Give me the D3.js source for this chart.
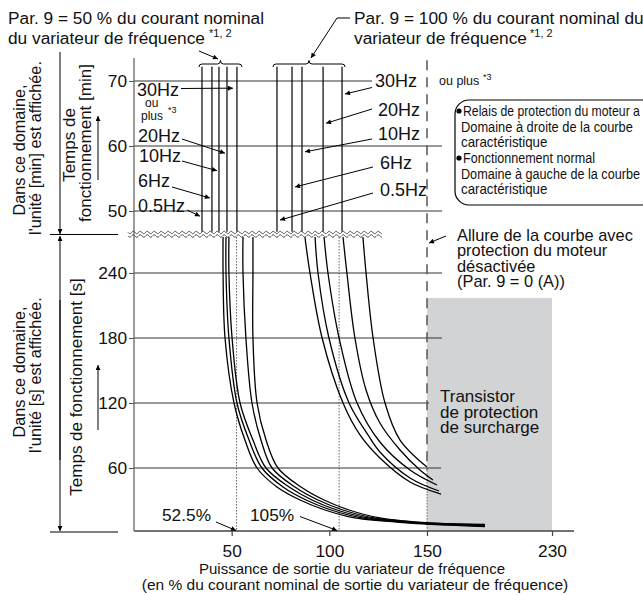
<!DOCTYPE html>
<html><head><meta charset="utf-8">
<script src="https://cdn.jsdelivr.net/npm/d3@7"></script>
<style>
html,body{margin:0;padding:0;background:#fff;}
svg{display:block;font-family:'Liberation Sans',Arial,Helvetica,sans-serif;}
</style></head><body>
<svg id="chart" width="643" height="595"></svg>
<script>
// ---------------- DATA ----------------
const freqLabels = ["0.5Hz", "6Hz", "10Hz", "20Hz", "30Hz"];
const xTicks = [50, 100, 150, 230];
const secTicks = [60, 120, 180, 240];
const minTicks = [50, 60, 70];
// gridline right ends (in % units)
const secGridEnds = [159, 151.3, 159.6, 159.6];
const minGridEnds = [159.6, 159.6, 121.9];
// vertical lines in the [min] domain (x in %)
const minLines50 = [34.8, 39.9, 43.5, 47.6, 52.7];
const minLines100 = [73.2, 80.9, 86.0, 96.8, 106.5];
const minSpan = [46.8, 72.2];
// curves in the [s] domain: [% current, seconds]
const curves50 = [
  [[45.6,273.2],[45.6,240],[46.6,180],[51.2,120],[56.8,85.8],[63.0,60],[73.2,41.9],[85.0,29.5],[97.8,20],[113.1,12.4],[141.3,7.6],[187.1,4.3]],
  [[47.1,273.2],[47.1,240],[48.6,180],[52.7,120],[58.9,85.8],[65.5,60],[76.3,41.9],[88.1,29.5],[100.9,20],[116.7,12.4],[143.9,7.6],[187.1,4.8]],
  [[48.6,273.2],[48.6,240],[50.2,180],[54.3,120],[60.9,85.8],[67.6,60],[79.4,41.9],[91.1,29.5],[103.9,20],[119.8,12.4],[146.4,7.6],[187.1,5.3]],
  [[55.8,273.2],[55.8,240],[57.3,180],[60.4,120],[65.0,85.8],[70.7,60],[82.4,41.9],[94.2,29.5],[107.0,20],[122.9,12.4],[149.0,7.6],[187.1,5.8]],
  [[60.9,273.2],[60.9,240],[60.9,180],[63.0,120],[67.6,85.8],[73.7,60],[85.5,41.9],[97.3,29.5],[110.1,20],[125.9,12.4],[151.9,7.6],[187.1,6.3]]
];
const curves100 = [
  [[87.5,273.2],[90.1,240],[96.3,180],[107.0,120],[115.7,90.5],[125.9,69.2],[141.3,46.7],[159.0,35.2]],
  [[92.7,273.2],[94.2,240],[99.8,180],[110.1,120],[119.8,90.5],[125.9,74.8],[141.3,50.5],[157.7,38.1]],
  [[97.3,273.2],[99.3,240],[105.0,180],[114.2,120],[125.9,84],[141.3,58.1],[156.4,43.8]],
  [[107.0,273.2],[109.0,240],[113.1,180],[118.8,132],[125.9,101.5],[136.2,76.6],[146.4,58.1],[153.8,48.6]],
  [[117.2,273.2],[118.8,240],[122.4,180],[128.5,120],[136.2,85.8],[150,60.9]]
];
const markerPcts = [52.5, 105];
const markerLabels = ["52.5%", "105%"];
const protectionLimit = 150;
const transistorZone = [150, 230];
const transistorTop = 217;

// ---------------- SCALES ----------------
const svg = d3.select("#chart");
const x = d3.scaleLinear().domain([0, 150, 230]).range([134, 427, 552]);
const ys = d3.scaleLinear().domain([0, 60, 120, 180, 240]).range([531, 468, 403, 338, 273]);
const ym = d3.scaleLinear().domain([50, 70]).range([211, 81]);

const defs = svg.append("defs");
defs.append("marker").attr("id", "ah").attr("viewBox", "0 0 10 10")
  .attr("refX", 10).attr("refY", 5).attr("markerWidth", 7).attr("markerHeight", 5)
  .attr("markerUnits", "userSpaceOnUse").attr("orient", "auto")
  .append("path").attr("d", "M0,0 L10,5 L0,10 z").attr("fill", "#000");

const FONT = 17.3;
function txt(px, py, s, size, opts = {}) {
  const t = svg.append("text").attr("x", px).attr("y", py).attr("font-size", size)
    .attr("fill", "#111").text(s);
  if (opts.anchor) t.attr("text-anchor", opts.anchor);
  if (opts.family) t.attr("font-family", opts.family);
  return t;
}
// text horizontally condensed to a given width (narrow typeface look)
function ntxt(px, py, s, size, width) {
  const t = svg.append("text").attr("x", 0).attr("y", 0).attr("font-size", size)
    .attr("fill", "#111").text(s);
  const natural = t.node().getComputedTextLength() || width;
  t.attr("transform", `translate(${px},${py}) scale(${width / natural},1)`);
  return t;
}
function rtxt(px, py, s, size) {
  return svg.append("text").attr("transform", `translate(${px},${py}) rotate(-90)`)
    .attr("text-anchor", "middle").attr("font-size", size).attr("fill", "#111").text(s);
}
function arrow(pts, w = 1) {
  svg.append("path").attr("d", d3.line()(pts)).attr("fill", "none")
    .attr("stroke", "#000").attr("stroke-width", w).attr("marker-end", "url(#ah)");
}

// ---------------- BACKGROUND ZONE ----------------
svg.append("rect").attr("x", x(transistorZone[0])).attr("y", ys(transistorTop))
  .attr("width", x(transistorZone[1]) - x(transistorZone[0]))
  .attr("height", ys(0) - ys(transistorTop)).attr("fill", "#d2d3d5");

// ---------------- GRIDLINES ----------------
secTicks.forEach((t, i) => {
  svg.append("line").attr("x1", x(0)).attr("x2", x(secGridEnds[i]))
    .attr("y1", ys(t)).attr("y2", ys(t)).attr("stroke", "#333").attr("stroke-width", 1.1);
});
minTicks.forEach((t, i) => {
  svg.append("line").attr("x1", x(0)).attr("x2", x(minGridEnds[i]))
    .attr("y1", ym(t)).attr("y2", ym(t)).attr("stroke", "#333").attr("stroke-width", 1.1);
});

// ---------------- AXES ----------------
const xAxis = d3.axisBottom(x).tickValues(xTicks).tickSize(5).tickPadding(5).tickFormat(d3.format("d"));
const gx = svg.append("g").attr("transform", `translate(0,${ys(0)})`).call(xAxis);
gx.select(".domain").remove();
gx.selectAll("line").attr("stroke", "#444").attr("stroke-width", 1.2);
gx.selectAll("text").attr("font-size", FONT).attr("fill", "#111").attr("font-family", null).attr("dy", "0.9em");
svg.append("line").attr("x1", x(0)).attr("x2", x(230) + 22).attr("y1", ys(0)).attr("y2", ys(0))
  .attr("stroke", "#444").attr("stroke-width", 1.4);

const gys = svg.append("g").attr("transform", `translate(${x(0)},0)`)
  .call(d3.axisLeft(ys).tickValues(secTicks).tickSize(5).tickPadding(2));
const gym = svg.append("g").attr("transform", `translate(${x(0)},0)`)
  .call(d3.axisLeft(ym).tickValues(minTicks).tickSize(5).tickPadding(2));
[gys, gym].forEach(g => {
  g.select(".domain").remove();
  g.selectAll("line").attr("stroke", "#555").attr("stroke-width", 1.1);
  g.selectAll("text").attr("font-size", FONT).attr("fill", "#111").attr("font-family", null);
});
svg.append("line").attr("x1", x(0)).attr("x2", x(0)).attr("y1", 58).attr("y2", ys(0))
  .attr("stroke", "#666").attr("stroke-width", 1.3);

// ---------------- PROTECTION LIMIT (150%) ----------------
svg.append("line").attr("x1", x(protectionLimit)).attr("x2", x(protectionLimit))
  .attr("y1", ym(73.2)).attr("y2", ys(58)).attr("stroke", "#555").attr("stroke-width", 1.5)
  .attr("stroke-dasharray", "10,7");
svg.append("line").attr("x1", x(protectionLimit)).attr("x2", x(protectionLimit))
  .attr("y1", ys(58)).attr("y2", ys(0)).attr("stroke", "#666").attr("stroke-width", 1)
  .attr("stroke-dasharray", "1.5,1.5");

// dotted markers 52.5 / 105 %
markerPcts.forEach(p => {
  svg.append("line").attr("x1", x(p)).attr("x2", x(p)).attr("y1", ys(273.2)).attr("y2", ys(0))
    .attr("stroke", "#666").attr("stroke-width", 1).attr("stroke-dasharray", "1.5,1.5");
});

// ---------------- [min] DOMAIN VERTICAL LINES ----------------
[minLines50, minLines100].forEach(arr => arr.forEach(v => {
  svg.append("line").attr("x1", x(v)).attr("x2", x(v))
    .attr("y1", ym(minSpan[1])).attr("y2", ym(minSpan[0]))
    .attr("stroke", "#000").attr("stroke-width", 1.2);
}));

// ---------------- [s] DOMAIN CURVES ----------------
const line = d3.line().x(d => x(d[0])).y(d => ys(d[1])).curve(d3.curveCatmullRom.alpha(0.5));
[...curves50, ...curves100].forEach(c => {
  svg.append("path").attr("d", line(c)).attr("fill", "none")
    .attr("stroke", "#000").attr("stroke-width", 1.3);
});

// ---------------- AXIS BREAK (wavy) ----------------
[232.5, 236].forEach(y0 => {
  const pts = d3.range(128, 382.5, 0.5).map(px => [px, y0 + 1.2 * Math.sin((px - 128) / 7 * 2 * Math.PI)]);
  svg.append("path").attr("d", d3.line()(pts)).attr("fill", "none")
    .attr("stroke", "#444").attr("stroke-width", 1);
});

// ---------------- BRACES ----------------
function brace(x1, x2, yb, y1, yt) {
  const xm = (x1 + x2) / 2;
  const d = `M${x1},${yb} Q${x1},${y1} ${x1 + 3},${y1} L${xm - 3},${y1} Q${xm},${y1} ${xm},${yt} Q${xm},${y1} ${xm + 3},${y1} L${x2 - 3},${y1} Q${x2},${y1} ${x2},${yb}`;
  svg.append("path").attr("d", d).attr("fill", "none").attr("stroke", "#000").attr("stroke-width", 1);
}
brace(x(minLines50[0]) - 3, x(minLines50[4]) + 5, 67, 64, 60.5);
brace(x(minLines100[0]) - 4, x(minLines100[4]) + 3, 67, 64, 60.5);

// ---------------- TITLES ----------------
txt(8, 24, "Par. 9 = 50 % du courant nominal", FONT);
txt(8, 44, "du variateur de fréquence", FONT);
txt(209, 37, "*1, 2", 11);
txt(354, 24, "Par. 9 = 100 % du courant nominal du", FONT);
txt(354, 44, "variateur de fréquence", FONT);
txt(530, 37, "*1, 2", 11);
arrow([[199, 51], [218, 59]]);
arrow([[350, 18], [337, 18], [311, 58]]);

// ---------------- FREQUENCY LABELS ----------------
const leftLab = [ // text x, baseline, arrow start, arrow tip (minutes)
  [138, 212, [187, 210], 49.2],
  [138, 187, [172, 187], 52.0],
  [139, 162, [182, 161], 56.2],
  [138, 142, [182, 139], 58.9],
  [137, 96, [181, 88.5], 68.9]
];
leftLab.forEach((l, i) => {
  txt(l[0], l[1], freqLabels[i], 18);
  arrow([l[2], [x(minLines50[i]) - (i === 4 ? 4 : 2), ym(l[3])]]);
});
txt(145, 107, "ou", 12);
txt(141, 120, "plus", 12);
txt(168, 113, "*3", 9);

const rightLab = [
  [380, 196, [373, 193], 48.6],
  [380, 169, [373, 167], 53.7],
  [378, 140, [372, 139], 59.1],
  [378, 116, [372, 109], 63.5],
  [375, 87, [372, 87.5], 68.0]
];
rightLab.forEach((l, i) => {
  txt(l[0], l[1], freqLabels[i], 18);
  arrow([l[2], [x(minLines100[i]) + 3, ym(l[3])]]);
});
txt(439, 85, "ou plus", 12.5);
txt(483, 80, "*3", 9);

// ---------------- INFO BOX ----------------
svg.append("rect").attr("x", 455).attr("y", 100).attr("width", 230).attr("height", 105)
  .attr("rx", 14).attr("fill", "none").attr("stroke", "#000").attr("stroke-width", 1.2);
const boxLines = [
  ["Relais de protection du moteur a", 463, 116, 177],
  ["Domaine à droite de la courbe", 461, 131.5, 172],
  ["caractéristique", 461, 147, 86.5],
  ["Fonctionnement normal", 463, 163, 132],
  ["Domaine à gauche de la courbe", 461, 178.5, 179],
  ["caractéristique", 461, 194, 86.5]
];
boxLines.forEach(b => ntxt(b[1], b[2], b[0], 15, b[3]));
svg.append("circle").attr("cx", 459).attr("cy", 111).attr("r", 2.6).attr("fill", "#000");
svg.append("circle").attr("cx", 459).attr("cy", 158).attr("r", 2.6).attr("fill", "#000");

// ---------------- ALLURE NOTE ----------------
["Allure de la courbe avec", "protection du moteur", "désactivée", "(Par. 9 = 0 (A))"]
  .forEach((s, i) => txt(457, 241 + i * 15.4, s, 16.4));
arrow([[446, 236], [429, 243]]);

// ---------------- TRANSISTOR ZONE LABEL ----------------
["Transistor", "de protection", "de surcharge"].forEach((s, i) => txt(440, 402 + i * 15.5, s, 17));

// ---------------- 52.5% / 105% ----------------
txt(162, 521, markerLabels[0], FONT);
txt(250, 521, markerLabels[1], FONT);
arrow([[216, 522], [x(markerPcts[0]) - 0.5, ys(0) - 0.5]]);
arrow([[300, 516.5], [x(markerPcts[1]) - 2, ys(0) - 0.5]]);

// ---------------- X TITLE ----------------
txt(352, 574, "Puissance de sortie du variateur de fréquence", 15, { anchor: "middle" });
txt(355, 590, "(en % du courant nominal de sortie du variateur de fréquence)", 15.5, { anchor: "middle" });

// ---------------- LEFT DOMAIN LABELS ----------------
rtxt(25, 150, "Dans ce domaine,", 16.3);
rtxt(41, 148, "l'unité [min] est affichée.", 16.3);
rtxt(25, 372, "Dans ce domaine,", 16.3);
rtxt(41, 375, "l'unité [s] est affichée.", 16.3);
rtxt(75, 145, "Temps de", 17);
rtxt(91, 143, "fonctionnement [min]", 17);
rtxt(82, 387, "Temps de fonctionnement [s]", 17);
arrow([[98, 180], [98, 116]]);
arrow([[98, 430], [98, 365]]);

// domain brackets
arrow([[60, 52], [60, 234]]);
arrow([[60, 460], [60, 236]]);
arrow([[60, 300], [60, 531]]);
svg.append("line").attr("x1", 50).attr("x2", 118).attr("y1", 234.5).attr("y2", 234.5)
  .attr("stroke", "#000").attr("stroke-width", 1);
svg.append("line").attr("x1", 50).attr("x2", 118).attr("y1", 532).attr("y2", 532)
  .attr("stroke", "#000").attr("stroke-width", 1);
</script></body></html>
